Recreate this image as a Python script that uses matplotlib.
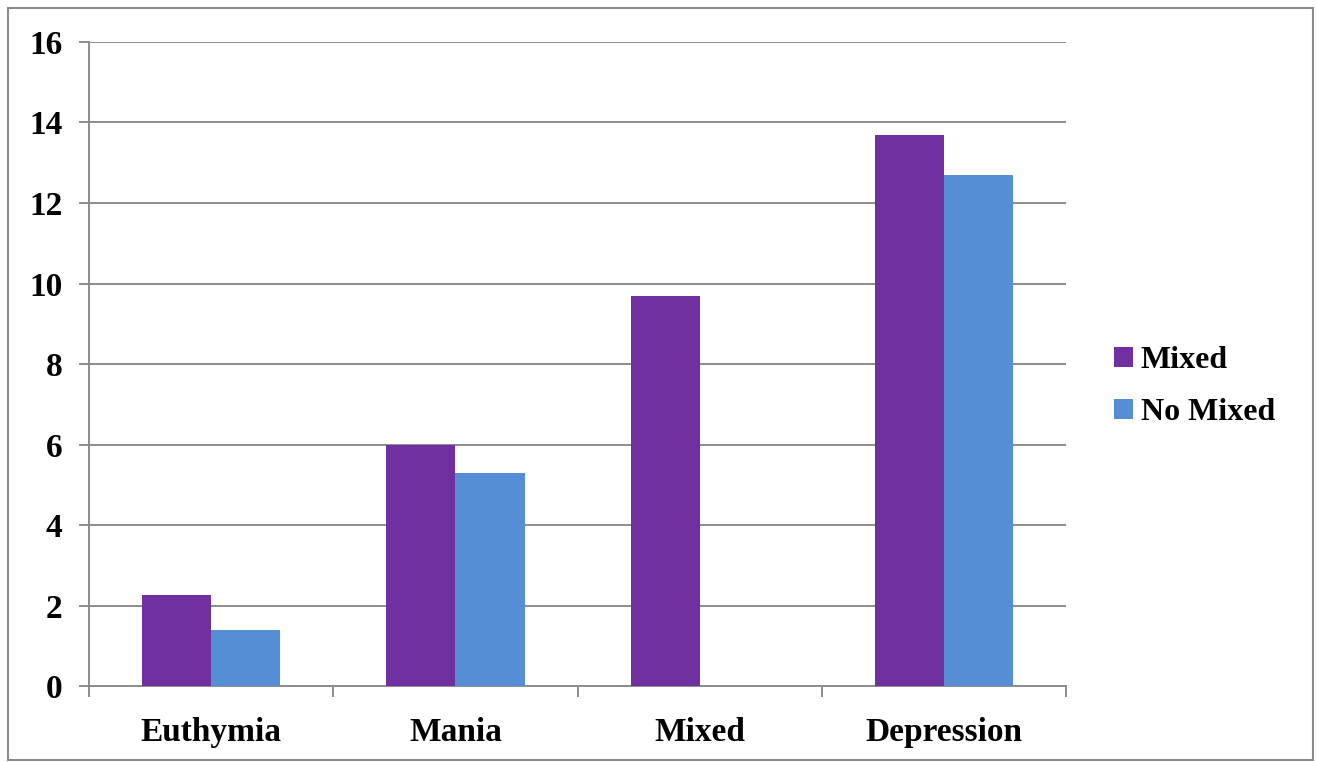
import matplotlib
matplotlib.use('Agg')
import matplotlib.pyplot as plt
from matplotlib.patches import Rectangle
import numpy as np

# Dados por estado de humor
estados = ['Euthymia', 'Mania', 'Mixed', 'Depression']
mixed = [2.27, 6.0, 9.7, 13.7]
no_mixed = [1.4, 5.3, 0.0, 12.7]

plt.rcParams['font.family'] = ['Liberation Serif', 'DejaVu Serif']
plt.rcParams['font.weight'] = 'bold'

fig = plt.figure(figsize=(13.17, 7.62), dpi=100)
ax = fig.add_axes([0.0676, 0.0997, 0.7418, 0.8452])

x = np.arange(len(estados))
w = 0.283
ax.bar(x - w / 2, mixed, w, color='#7030A0', label='Mixed', zorder=3)
ax.bar(x + w / 2, no_mixed, w, color='#558ED5', label='No Mixed', zorder=3)

ax.set_xlim(-0.5, len(estados) - 0.5)
ax.set_ylim(0, 16)
ax.set_yticks(range(0, 17, 2))
ax.yaxis.grid(True, color='#8c8c8c', linewidth=1.4, zorder=0)

# rótulos das categorias centralizados, ticks nas divisões
ax.set_xticks(np.arange(-0.5, len(estados), 1))
ax.set_xticklabels([])
ax.set_xticks(x, minor=True)
ax.set_xticklabels(estados, minor=True, fontsize=24, fontweight='bold')
ax.tick_params(axis='x', which='minor', length=0, pad=22)
ax.tick_params(axis='x', which='major', length=8, width=1.4, color='#8c8c8c')
ax.tick_params(axis='y', length=7, width=1.4, color='#8c8c8c', labelsize=24, pad=12)
for lab in ax.get_yticklabels():
    lab.set_fontweight('bold')

for s in ['top', 'right']:
    ax.spines[s].set_visible(False)
for s in ['left', 'bottom']:
    ax.spines[s].set_color('#8c8c8c')
    ax.spines[s].set_linewidth(1.4)

leg = ax.legend(loc='center left', bbox_to_anchor=(1.02, 0.465), frameon=False,
                prop={'size': 23, 'weight': 'bold'}, handlelength=0.58,
                handleheight=0.58, handletextpad=0.25, labelspacing=0.72)

# moldura externa
fig.patches.append(Rectangle((0.006, 0.002), 0.991, 0.987, transform=fig.transFigure,
                             fill=False, edgecolor='#8c8c8c', linewidth=1.5))

fig.savefig('out.png', dpi=100)
